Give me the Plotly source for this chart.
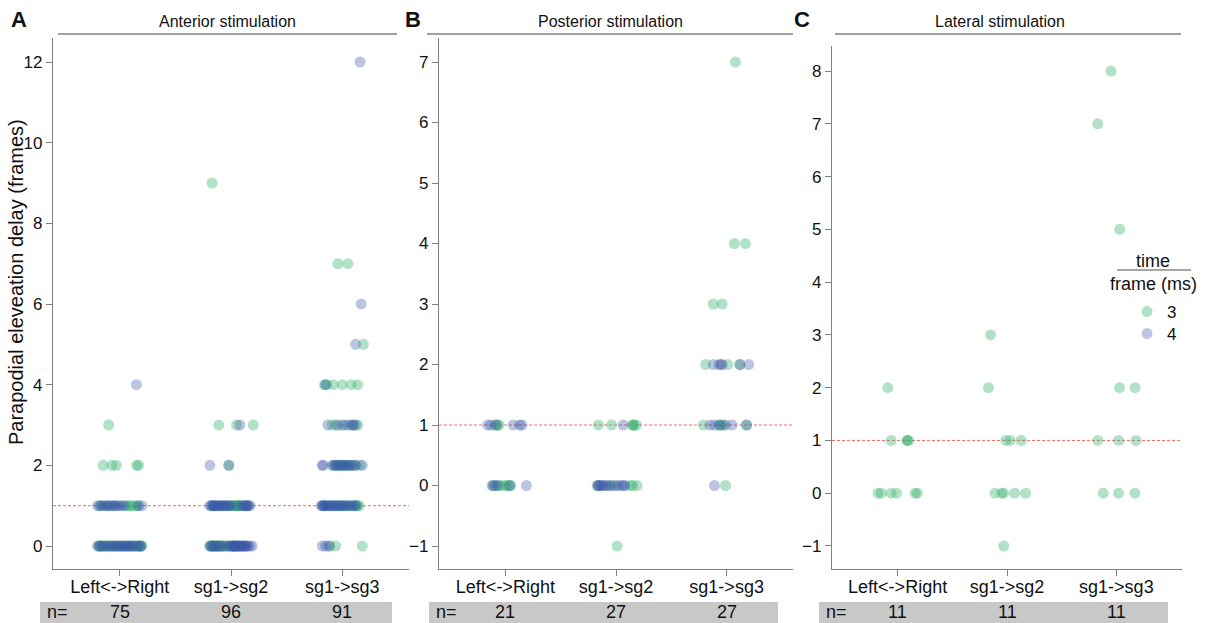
import plotly.graph_objects as go

# ---------------- data ----------------
categories = ["Left<->Right", "sg1->sg2", "sg1->sg3"]
panel_titles = ["Anterior stimulation", "Posterior stimulation", "Lateral stimulation"]
panel_letters = ["A", "B", "C"]
n_A = [75, 96, 91]
n_B = [21, 27, 27]
n_C = [11, 11, 11]
legend_names = ["3", "4"]  # time frame (ms)

# Panel A --- Left<->Right
A_LR_g_y = [3, 2, 2, 2, 2, 2] + [1] * 9 + [0] * 22
A_LR_g_dx = [-0.10, -0.15, -0.07, -0.03, 0.15, 0.17,
             -0.17, -0.11, -0.05, 0.06, 0.08, 0.10, 0.12, 0.15, 0.16,
             -0.19, -0.18, -0.17, -0.15, -0.13, -0.12, -0.10, -0.08, -0.06, -0.04, -0.02,
             0.00, 0.03, 0.06, 0.10, 0.12, 0.14, 0.15, 0.17, 0.18, 0.19, 0.20]
A_LR_b_y = [4] + [1] * 15 + [0] * 22
A_LR_b_dx = [0.15,
             -0.20, -0.18, -0.16, -0.14, -0.12, -0.10, -0.08, -0.06, -0.04, -0.02, 0.00, 0.02, 0.04, 0.17, 0.20,
             -0.20, -0.18, -0.16, -0.14, -0.11, -0.09, -0.07, -0.05, -0.03, -0.01, 0.01,
             0.02, 0.04, 0.05, 0.07, 0.08, 0.09, 0.11, 0.13, 0.16, 0.18, 0.19]
# Panel A --- sg1->sg2
A_S2_g_y = [9, 3, 3, 3, 2] + [1] * 16 + [0] * 20
A_S2_g_dx = [-0.17, -0.11, 0.05, 0.20, -0.02,
             -0.16, -0.13, -0.09, -0.05, -0.01, 0.01, 0.02, 0.03, 0.04, 0.05, 0.06, 0.07, 0.08, 0.09, 0.11, 0.14,
             -0.19, -0.18, -0.17, -0.16, -0.15, -0.14, -0.13, -0.12, -0.11, -0.10,
             -0.08, -0.07, -0.06, -0.06, -0.05, -0.02, 0.02, 0.05, 0.08, 0.12]
A_S2_b_y = [3, 2, 2] + [1] * 24 + [0] * 28
A_S2_b_dx = [0.08, -0.19, -0.02,
             -0.19, -0.18, -0.17, -0.16, -0.15, -0.14, -0.12, -0.11, -0.10, -0.08, -0.07, -0.06,
             -0.04, -0.03, -0.02, 0.00, 0.06, 0.10, 0.12, 0.13, 0.14, 0.15, 0.16, 0.17,
             -0.19, -0.17, -0.16, -0.14, -0.12, -0.10, -0.09, -0.03, -0.01, 0.00, 0.01, 0.02, 0.03, 0.03,
             0.04, 0.05, 0.06, 0.07, 0.08, 0.09, 0.10, 0.11, 0.12, 0.13, 0.14, 0.15, 0.17, 0.19]
# Panel A --- sg1->sg3
A_S3_g_y = [7, 7, 5] + [4] * 6 + [3] * 5 + [2] * 10 + [1] * 13 + [0] * 3
A_S3_g_dx = [-0.04, 0.05, 0.19,
             -0.16, -0.14, -0.08, 0.00, 0.08, 0.14,
             -0.09, -0.06, 0.02, 0.10, 0.14,
             -0.08, -0.06, -0.04, -0.02, 0.01, 0.03, 0.05, 0.07, 0.12, 0.16,
             -0.17, -0.13, -0.09, -0.06, -0.03, 0.00, 0.02, 0.04, 0.06, 0.10, 0.13, 0.14, 0.15,
             -0.11, -0.06, 0.18]
A_S3_b_y = [12, 6, 5, 4] + [3] * 7 + [2] * 15 + [1] * 22 + [0] * 3
A_S3_b_dx = [0.16, 0.17, 0.12, -0.15,
             -0.13, -0.04, 0.00, 0.05, 0.08, 0.10, 0.12,
             -0.18, -0.17, -0.09, -0.07, -0.05, -0.03, -0.01, 0.00, 0.02, 0.04, 0.06, 0.08, 0.10, 0.12, 0.18,
             -0.19, -0.18, -0.17, -0.16, -0.15, -0.14, -0.12, -0.11, -0.10, -0.08, -0.07,
             -0.05, -0.04, -0.02, -0.01, 0.01, 0.03, 0.05, 0.07, 0.09, 0.11, 0.12,
             -0.18, -0.15, -0.12]

# Panel B --- Left<->Right
B_LR_g_y = [1, 1, 1] + [0] * 7
B_LR_g_dx = [-0.08, -0.07, -0.06, -0.11, -0.08, -0.05, -0.02, 0.01, 0.03, 0.05]
B_LR_b_y = [1] * 6 + [0] * 5
B_LR_b_dx = [-0.16, -0.13, -0.09, 0.07, 0.13, 0.15, -0.12, -0.10, -0.07, 0.04, 0.19]
# Panel B --- sg1->sg2
B_S2_g_y = [1] * 6 + [0] * 6 + [-1]
B_S2_g_dx = [-0.16, -0.04, 0.15, 0.155, 0.16, 0.185, -0.16, -0.06, 0.00, 0.13, 0.15, 0.19, 0.01]
B_S2_b_y = [1] + [0] * 13
B_S2_b_dx = [0.065, -0.17, -0.16, -0.15, -0.13, -0.12, -0.10, -0.08, -0.05, -0.02, 0.02, 0.05, 0.07, 0.08]
# Panel B --- sg1->sg3
B_S3_g_y = [7, 4, 4, 3, 3, 2, 2, 2, 1, 1, 1, 1, 1, 0]
B_S3_g_dx = [0.08, 0.07, 0.17, -0.12, -0.04, -0.19, 0.01, 0.12, -0.21, -0.07, -0.05, -0.03, 0.18, -0.01]
B_S3_b_y = [2, 2, 2, 2, 2, 2, 1, 1, 1, 1, 1, 1, 0]
B_S3_b_dx = [-0.12, -0.07, -0.05, -0.04, 0.12, 0.20, -0.15, -0.11, -0.06, -0.01, 0.05, 0.18, -0.11]

# Panel C (only 3 ms frames)
C_LR_g_y = [2, 1, 1, 1, 1, 0, 0, 0, 0, 0, 0]
C_LR_g_dx = [-0.09, -0.06, 0.085, 0.09, 0.10, -0.18, -0.15, -0.06, -0.01, 0.16, 0.18]
C_S2_g_y = [3, 2, 1, 1, 1, 0, 0, 0, 0, 0, -1]
C_S2_g_dx = [-0.15, -0.17, -0.01, 0.03, 0.13, -0.11, -0.05, -0.03, 0.07, 0.17, -0.03]
C_S3_g_y = [8, 7, 5, 2, 2, 1, 1, 1, 0, 0, 0]
C_S3_g_dx = [-0.05, -0.17, 0.03, 0.03, 0.17, -0.17, 0.02, 0.18, -0.12, 0.02, 0.17]

# ---------------- style ----------------
W, H = 1205, 623
FONT = "Liberation Sans, Arial, Helvetica, sans-serif"
GREEN = "rgba(60,179,113,0.40)"
BLUE = "rgba(61,90,168,0.35)"
AXCOL = "#808080"


def px(x):
    return x / W


def py(y):
    return 1 - y / H


panels = [
    dict(letter="A", title=panel_titles[0], n=n_A, xd=(53, 409), yd=(569, 38),
         yrange=[-0.570, 12.595], tickvals=[0, 2, 4, 6, 8, 10, 12],
         green=[(A_LR_g_y, A_LR_g_dx), (A_S2_g_y, A_S2_g_dx), (A_S3_g_y, A_S3_g_dx)],
         blue=[(A_LR_b_y, A_LR_b_dx), (A_S2_b_y, A_S2_b_dx), (A_S3_b_y, A_S3_b_dx)],
         head=(58, 397, 227), letter_x=19, nbar=(40, 392)),
    dict(letter="B", title=panel_titles[1], n=n_B, xd=(439, 793), yd=(569, 38),
         yrange=[-1.380, 7.397], tickvals=list(range(-1, 8)),
         green=[(B_LR_g_y, B_LR_g_dx), (B_S2_g_y, B_S2_g_dx), (B_S3_g_y, B_S3_g_dx)],
         blue=[(B_LR_b_y, B_LR_b_dx), (B_S2_b_y, B_S2_b_dx), (B_S3_b_y, B_S3_b_dx)],
         head=(427, 793, 610), letter_x=413, nbar=(429, 778)),
    dict(letter="C", title=panel_titles[2], n=n_C, xd=(832, 1182), yd=(569, 46),
         yrange=[-1.436, 8.474], tickvals=list(range(-1, 9)),
         green=[(C_LR_g_y, C_LR_g_dx), (C_S2_g_y, C_S2_g_dx), (C_S3_g_y, C_S3_g_dx)],
         blue=[],
         head=(835, 1181, 1000), letter_x=802, nbar=(819, 1168)),
]

fig = go.Figure()
shapes = []
annotations = []
layout_axes = {}

for i, p in enumerate(panels):
    sfx = "" if i == 0 else str(i + 1)
    xref, yref = "x" + sfx, "y" + sfx
    for color, name, lg, groups in ((GREEN, legend_names[0], "legend", p["green"]),
                                    (BLUE, legend_names[1], "legend2", p["blue"])):
        xs, ys = [], []
        for ci, (yv, dxv) in enumerate(groups):
            xs += [ci + d for d in dxv]
            ys += list(yv)
        if not xs:
            continue
        fig.add_trace(go.Scatter(
            x=xs, y=ys, mode="markers", name=name, legendgroup=name, legend=lg,
            showlegend=(i == 0), xaxis=xref, yaxis=yref,
            marker=dict(size=11, color=color, line=dict(width=0)),
            hoverinfo="skip"))
    layout_axes["xaxis" + sfx] = dict(
        domain=[px(p["xd"][0]), px(p["xd"][1])], range=[-0.6, 2.6], anchor=yref,
        tickvals=[0, 1, 2], ticktext=categories, ticks="outside", ticklen=6,
        ticklabelstandoff=-5,
        tickcolor=AXCOL, showline=True, linecolor=AXCOL, linewidth=1.2,
        showgrid=False, zeroline=False, tickfont=dict(size=18, color="#111", family=FONT),
        fixedrange=True)
    layout_axes["yaxis" + sfx] = dict(
        domain=[py(p["yd"][0]), py(p["yd"][1])], range=p["yrange"], anchor=xref,
        tickvals=p["tickvals"], ticks="outside", ticklen=6, tickcolor=AXCOL,
        showline=True, linecolor=AXCOL, linewidth=1.2, showgrid=False, zeroline=False,
        tickfont=dict(size=17, color="#111", family=FONT), fixedrange=True)
    # reference dotted line at 1 frame
    shapes.append(dict(type="line", xref=xref + " domain", yref=yref, x0=0, x1=1, y0=1, y1=1,
                       line=dict(color="rgba(240,80,80,0.85)", width=1, dash="3px,2px"), layer="below"))
    # header line + title
    h0, h1, hc = p["head"]
    shapes.append(dict(type="line", xref="paper", yref="paper", x0=px(h0), x1=px(h1),
                       y0=py(34), y1=py(34), line=dict(color="#444", width=1)))
    annotations.append(dict(text=p["title"], xref="paper", yref="paper", x=px(hc), y=py(22),
                            xanchor="center", yanchor="middle", showarrow=False,
                            font=dict(size=16, color="#111", family=FONT)))
    annotations.append(dict(text="<b>" + p["letter"] + "</b>", xref="paper", yref="paper",
                            x=px(p["letter_x"]), y=py(20), xanchor="center", yanchor="middle",
                            showarrow=False, font=dict(size=22, color="#111", family=FONT)))
    # n= bar
    b0, b1 = p["nbar"]
    shapes.append(dict(type="rect", xref="paper", yref="paper", x0=px(b0), x1=px(b1),
                       y0=py(623), y1=py(602), fillcolor="#c8c8c8", line=dict(width=0), layer="below"))
    annotations.append(dict(text="n=", xref="paper", yref="paper", x=px(b0 + 5), y=py(612),
                            xanchor="left", yanchor="middle", showarrow=False,
                            font=dict(size=18, color="#111", family=FONT)))
    for ci, nv in enumerate(p["n"]):
        annotations.append(dict(text=str(nv), xref=xref, yref="paper", x=ci, y=py(612),
                                xanchor="center", yanchor="middle", showarrow=False,
                                font=dict(size=18, color="#111", family=FONT)))

# y-axis title
annotations.append(dict(text="Parapodial eleveation delay (frames)", xref="paper", yref="paper",
                        x=px(16), y=py(282), textangle=-90, xanchor="center", yanchor="middle",
                        showarrow=False, font=dict(size=20, color="#111", family=FONT)))
# legend title (fraction style)
annotations.append(dict(text="time", xref="paper", yref="paper", x=px(1153), y=py(261),
                        xanchor="center", yanchor="middle", showarrow=False,
                        font=dict(size=18, color="#111", family=FONT)))
annotations.append(dict(text="frame (ms)", xref="paper", yref="paper", x=px(1153), y=py(284),
                        xanchor="center", yanchor="middle", showarrow=False,
                        font=dict(size=18, color="#111", family=FONT)))
shapes.append(dict(type="line", xref="paper", yref="paper", x0=px(1117), x1=px(1191),
                   y0=py(270), y1=py(270), line=dict(color="#888", width=1.5)))

legend_common = dict(xanchor="left", yanchor="top", bgcolor="rgba(0,0,0,0)",
                     font=dict(size=17, family=FONT, color="#111"), itemwidth=30)

fig.update_layout(
    width=W, height=H, margin=dict(l=0, r=0, t=0, b=0),
    paper_bgcolor="white", plot_bgcolor="white",
    font=dict(family=FONT, size=16, color="#111"),
    shapes=shapes, annotations=annotations,
    legend=dict(x=px(1127), y=py(294), **legend_common),
    legend2=dict(x=px(1127), y=py(316), **legend_common),
    **layout_axes)

fig.write_html("out.html", config={"displayModeBar": False},
               post_script="document.body.style.margin='0px';document.body.style.overflow='hidden';")
